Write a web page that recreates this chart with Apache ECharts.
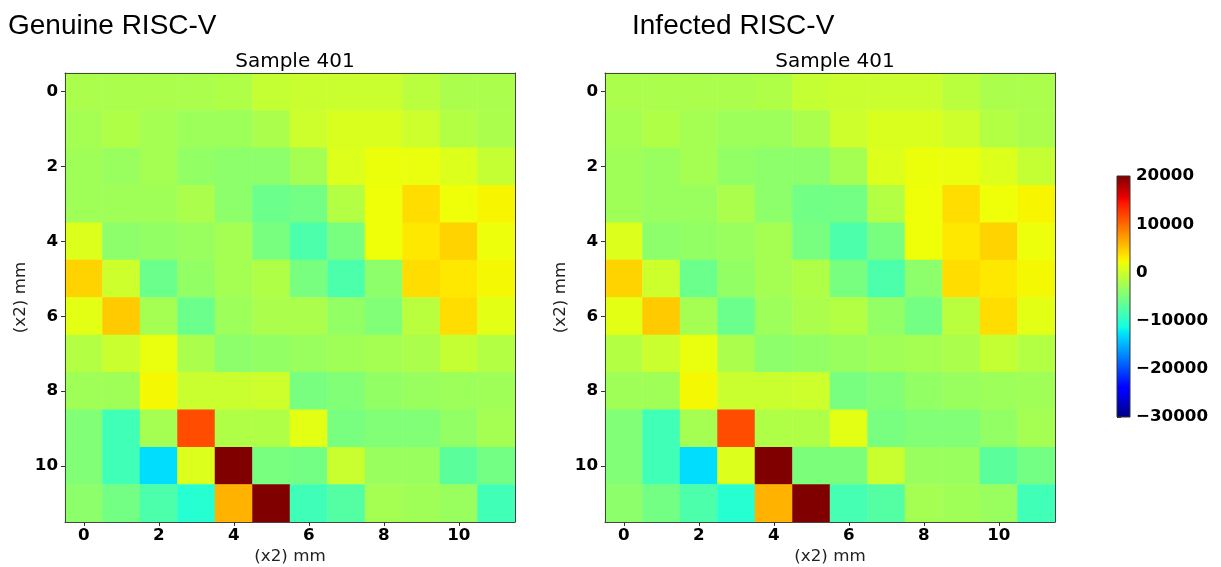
<!DOCTYPE html>
<html>
<head>
<meta charset="utf-8">
<script src="https://cdn.jsdelivr.net/npm/echarts@6/dist/echarts.min.js"></script>
<style>
html,body{margin:0;padding:0;background:#fff;}
#chart{width:1221px;height:567px;}
</style>
</head>
<body>
<div id="chart"></div>
<script>
// ---------- data ----------
const xCategories = [0,1,2,3,4,5,6,7,8,9,10,11];
const yCategories = [0,1,2,3,4,5,6,7,8,9,10,11];
const colorbarTicks = [-30000,-20000,-10000,0,10000,20000];
const valueMin = -30000;
const valueMax = 20000;

const genuine = [
  [-2100,-2100,-2100,-2100,-1800,-600,-300,-300,-300,-1200,-2100,-2100],
  [-2500,-1800,-2500,-3000,-3000,-2100,-100,700,700,-100,-1650,-2100],
  [-2750,-3200,-2500,-3600,-4000,-4000,-2500,900,1800,1700,900,-600],
  [-2750,-2750,-2750,-2100,-4000,-6000,-5500,-1650,2000,3800,2000,2500],
  [900,-4000,-3600,-3200,-2500,-5200,-7850,-5200,2000,3200,4300,1900],
  [4300,-100,-6000,-3600,-2500,-1800,-5200,-7850,-4000,3800,3200,2300],
  [1300,4800,-2500,-6000,-3000,-2100,-2100,-3600,-4750,-1200,3800,1300],
  [-1650,-300,1700,-2100,-4000,-3600,-3200,-2750,-2500,-2100,-600,-1650],
  [-2750,-2750,2300,-300,-300,-100,-5200,-4750,-3600,-3200,-3000,-2750],
  [-4750,-8600,-2500,11500,-1800,-1800,1300,-5200,-4750,-4750,-3600,-2500],
  [-4750,-8600,-12900,900,21000,-5200,-5500,-300,-3200,-3200,-7000,-5500],
  [-4000,-5500,-7850,-10200,6000,21000,-8700,-7400,-2500,-2750,-3200,-8600]
];
const infected = [
  [-2100,-2100,-2100,-2100,-1800,-600,-300,-300,-300,-1200,-2100,-2100],
  [-2500,-1800,-2500,-3000,-3000,-2100,-100,700,700,-100,-1650,-2100],
  [-2750,-3200,-2500,-3600,-4000,-4000,-2500,900,1800,1700,900,-600],
  [-2750,-3200,-3200,-2100,-4000,-5600,-5500,-1650,2000,3800,2000,2500],
  [900,-4000,-3600,-3200,-2500,-5200,-7850,-5200,2000,3200,4300,1900],
  [4300,-100,-6000,-3600,-2500,-1800,-5200,-7850,-4000,3800,3200,2300],
  [1300,4800,-2500,-6000,-3000,-2100,-1650,-3600,-5500,-1200,3800,1300],
  [-1650,-300,1700,-2100,-4000,-3600,-3200,-2750,-2500,-2100,-600,-1650],
  [-2750,-2750,2300,-300,-300,-100,-5200,-4750,-3600,-3200,-3000,-2750],
  [-4750,-8600,-2500,11500,-1800,-1800,1300,-5200,-4750,-4750,-3600,-2500],
  [-4750,-8600,-12900,900,21000,-5000,-5000,-300,-3200,-3200,-7000,-5500],
  [-4000,-5500,-7850,-10200,6000,21000,-8300,-7400,-2500,-2750,-3200,-8600]
];

// ---------- jet colormap (matplotlib segment data) ----------
const jetSeg = {
  r: [[0,0],[0.35,0],[0.66,1],[0.89,1],[1,0.5]],
  g: [[0,0],[0.125,0],[0.375,1],[0.64,1],[0.91,0],[1,0]],
  b: [[0,0.5],[0.11,1],[0.34,1],[0.65,0],[1,0]]
};
function segVal(seg, t){
  for (let i=1;i<seg.length;i++){
    if (t <= seg[i][0]) {
      const a = seg[i-1], b = seg[i];
      return a[1] + (b[1]-a[1])*(t-a[0])/(b[0]-a[0]);
    }
  }
  return seg[seg.length-1][1];
}
function jet(t){
  const c = k => Math.round(255*segVal(jetSeg[k], t));
  return 'rgb(' + c('r') + ',' + c('g') + ',' + c('b') + ')';
}
const jetColors = [];
const nStops = 201;
for (let i=0;i<nStops;i++) jetColors.push(jet(i/(nStops-1)));
const gradStops = jetColors.map((c,i)=>({offset:i/(nStops-1), color:c}));

function toCells(m){
  const out = [];
  m.forEach((row, r) => row.forEach((v, c) => out.push([c, r, v])));
  return out;
}

const tickFont = {fontFamily:'DejaVu Sans', fontWeight:'bold', fontSize:16.7, color:'#000'};
function fmtNum(v){ return v < 0 ? '\u2212' + Math.abs(v) : String(v); }

function mkAxes(gi){
  return {
    x: [{
      type:'category', data:xCategories, gridIndex:gi, z:5,
      axisLine:{show:true, lineStyle:{color:'#444', width:1}},
      axisTick:{show:true, alignWithLabel:true, interval:1, length:4, lineStyle:{color:'#333'}},
      axisLabel:Object.assign({interval:1, margin:5}, tickFont),
      splitLine:{show:false},
      name:'(x2) mm', nameLocation:'middle', nameGap:26, nameMoveOverlap:false,
      nameTextStyle:{fontFamily:'DejaVu Sans', fontSize:16.7, color:'#222'}
    },{
      type:'category', data:xCategories, gridIndex:gi, position:'top', z:5,
      axisLine:{show:true, lineStyle:{color:'#444', width:1}},
      axisTick:{show:false}, axisLabel:{show:false}
    }],
    y: [{
      type:'category', data:yCategories, gridIndex:gi, inverse:true, z:5,
      axisLine:{show:true, lineStyle:{color:'#444', width:1}},
      axisTick:{show:true, alignWithLabel:true, interval:1, length:4, lineStyle:{color:'#333'}},
      axisLabel:Object.assign({interval:1, margin:7}, tickFont),
      splitLine:{show:false},
      name:'(x2) mm', nameLocation:'middle', nameGap:44, nameRotate:90, nameMoveOverlap:false,
      nameTextStyle:{fontFamily:'DejaVu Sans', fontSize:16.7, color:'#222', verticalAlign:'middle'}
    },{
      type:'category', data:yCategories, gridIndex:gi, inverse:true, position:'right', z:5,
      axisLine:{show:true, lineStyle:{color:'#444', width:1}},
      axisTick:{show:false}, axisLabel:{show:false}
    }]
  };
}
const a0 = mkAxes(0), a1 = mkAxes(1);

const chart = echarts.init(document.getElementById('chart'), null, {renderer:'canvas'});
const option = {
  animation:false,
  backgroundColor:'#fff',
  title:[
    {text:'Genuine RISC-V', left:3, top:7, textStyle:{fontFamily:'Liberation Sans', fontWeight:'normal', fontSize:28, color:'#000'}},
    {text:'Infected RISC-V', left:627, top:7, textStyle:{fontFamily:'Liberation Sans', fontWeight:'normal', fontSize:28, color:'#000'}},
    {text:'Sample 401', left:290, top:47, textAlign:'center', textStyle:{fontFamily:'DejaVu Sans', fontWeight:'normal', fontSize:20, color:'#000'}},
    {text:'Sample 401', left:830, top:47, textAlign:'center', textStyle:{fontFamily:'DejaVu Sans', fontWeight:'normal', fontSize:20, color:'#000'}}
  ],
  grid:[
    {left:65, top:73, width:450, height:449, outerBoundsMode:'none', containLabel:false},
    {left:605, top:73, width:450, height:449, outerBoundsMode:'none', containLabel:false},
    {left:1117, top:176, width:13, height:241, outerBoundsMode:'none', containLabel:false}
  ],
  xAxis:[a0.x[0], a0.x[1], a1.x[0], a1.x[1],
    {type:'value', gridIndex:2, min:0, max:1, show:false}],
  yAxis:[a0.y[0], a0.y[1], a1.y[0], a1.y[1],
    {type:'value', gridIndex:2, min:valueMin, max:valueMax, interval:10000, position:'right',
     axisLine:{show:false},
     axisTick:{show:true, length:4, lineStyle:{color:'#333'}},
     axisLabel:Object.assign({margin:6, formatter:fmtNum}, tickFont),
     splitLine:{show:false}}],
  visualMap:{
    type:'continuous', show:false, min:valueMin, max:valueMax, seriesIndex:[0,1],
    inRange:{color:jetColors}
  },
  series:[
    {type:'heatmap', xAxisIndex:0, yAxisIndex:0, data:toCells(genuine), itemStyle:{borderWidth:0}},
    {type:'heatmap', xAxisIndex:2, yAxisIndex:2, data:toCells(infected), itemStyle:{borderWidth:0}},
    {type:'custom', xAxisIndex:4, yAxisIndex:4, data:[[0, valueMin, 1, valueMax]],
     renderItem:function(params, api){
       const p0 = api.coord([api.value(0), api.value(3)]);
       const p1 = api.coord([api.value(2), api.value(1)]);
       return {type:'rect', shape:{x:p0[0], y:p0[1], width:p1[0]-p0[0], height:p1[1]-p0[1]},
         style:{fill:new echarts.graphic.LinearGradient(0,1,0,0,gradStops), stroke:'#333', lineWidth:1}};
     }}
  ]
};
chart.setOption(option);
</script>
</body>
</html>
